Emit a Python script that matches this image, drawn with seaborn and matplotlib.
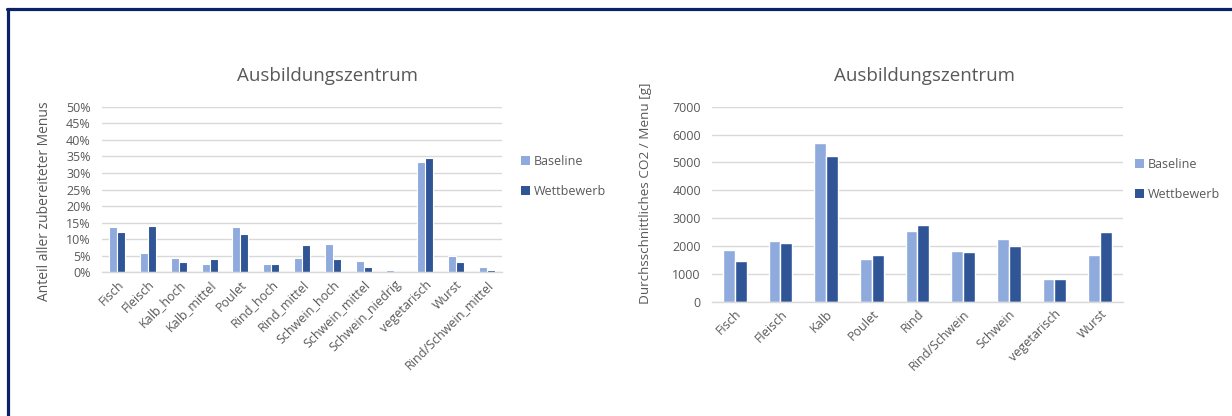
import matplotlib
matplotlib.use("Agg")
import matplotlib.pyplot as plt
from matplotlib.lines import Line2D
from matplotlib.patches import Patch
from matplotlib.ticker import FuncFormatter
import seaborn as sns
import pandas as pd

# ---- data ----
series = ["Baseline", "Wettbewerb"]

cats_left = ["Fisch", "Fleisch", "Kalb_hoch", "Kalb_mittel", "Poulet", "Rind_hoch",
             "Rind_mittel", "Schwein_hoch", "Schwein_mittel", "Schwein_niedrig",
             "vegetarisch", "Wurst", "Rind/Schwein_mittel"]
baseline_left = [13.6, 5.9, 4.3, 2.6, 13.6, 2.6, 4.3, 8.7, 3.4, 0.7, 33.3, 5.0, 1.6]
wettbewerb_left = [12.3, 14.1, 3.2, 4.1, 11.6, 2.4, 8.1, 4.1, 1.6, 0.0, 34.4, 3.2, 0.8]

cats_right = ["Fisch", "Fleisch", "Kalb", "Poulet", "Rind", "Rind/Schwein",
              "Schwein", "vegetarisch", "Wurst"]
baseline_right = [1870, 2190, 5710, 1520, 2550, 1820, 2240, 830, 1690]
wettbewerb_right = [1450, 2110, 5220, 1660, 2770, 1800, 2010, 830, 2500]

title = "Ausbildungszentrum"
ylabel_left = "Anteil aller zubereiteter Menus"
ylabel_right = "Durchsschnittliches CO2 / Menu [g]"

colors = {"Baseline": "#8FAADC", "Wettbewerb": "#2F5597"}
text_color = "#595959"
grid_color = "#D9D9D9"

sns.set_theme(style="white")
plt.rcParams["font.family"] = ["Open Sans", "DejaVu Sans"]


def long_df(cats, b, w):
    return pd.DataFrame({
        "cat": cats * 2,
        "series": ["Baseline"] * len(cats) + ["Wettbewerb"] * len(cats),
        "value": b + w,
    })


W, H = 1232, 416
fig = plt.figure(figsize=(W / 100, H / 100), dpi=100)

ax1 = fig.add_axes([0.0828, 0.3454, 0.3247, 0.398])
ax2 = fig.add_axes([0.5779, 0.2748, 0.3336, 0.4688])


def style_axis(ax, cats, ylim, yticks, fmt, ylabel, ylabel_fs, label_xy):
    ax.set_xlim(-0.5, len(cats) - 0.5)
    ax.set_ylim(*ylim)
    ax.set_yticks(yticks)
    ax.yaxis.set_major_formatter(FuncFormatter(fmt))
    ax.grid(axis="y", color=grid_color, linewidth=1.0)
    ax.set_axisbelow(True)
    for s in ["top", "right", "left"]:
        ax.spines[s].set_visible(False)
    ax.spines["bottom"].set_color(grid_color)
    ax.spines["bottom"].set_linewidth(1.0)
    ax.tick_params(axis="both", length=0, colors=text_color, labelsize=9)
    ax.tick_params(axis="y", pad=8)
    ax.tick_params(axis="x", pad=4)
    ax.set_xticks(range(len(cats)))
    ax.set_xticklabels(cats, rotation=45, ha="right", rotation_mode="anchor")
    ax.set_xlabel("")
    ax.set_ylabel(ylabel, color=text_color, fontsize=ylabel_fs)
    ax.yaxis.set_label_coords(*label_xy)
    if ax.get_legend() is not None:
        ax.get_legend().remove()


df1 = long_df(cats_left, baseline_left, wettbewerb_left)
sns.barplot(data=df1, x="cat", y="value", hue="series", palette=colors,
            hue_order=series, order=cats_left, width=0.52, gap=0.0,
            saturation=1, edgecolor="white", linewidth=0.8, ax=ax1)
style_axis(ax1, cats_left, (0, 50), list(range(0, 51, 5)),
           lambda v, p: f"{int(v)}%", ylabel_left, 10, (-0.125, 0.43))

df2 = long_df(cats_right, baseline_right, wettbewerb_right)
sns.barplot(data=df2, x="cat", y="value", hue="series", palette=colors,
            hue_order=series, order=cats_right, width=0.52, gap=0.0,
            saturation=1, edgecolor="white", linewidth=1.0, ax=ax2)
style_axis(ax2, cats_right, (0, 7000), list(range(0, 7001, 1000)),
           lambda v, p: f"{int(v)}", ylabel_right, 9.7, (-0.145, 0.555))

# chart titles, centred on each chart area
fig.text(327 / W, 1 - 76 / H, title, ha="center", va="center",
         color=text_color, fontsize=13.5)
fig.text(925 / W, 1 - 76 / H, title, ha="center", va="center",
         color=text_color, fontsize=13.5)

handles = [Patch(facecolor=colors[s], edgecolor="none") for s in series]
for anchor in [(0.414, 0.655), (0.912, 0.648)]:
    fig.legend(handles, series, loc="upper left", bbox_to_anchor=anchor,
               frameon=False, fontsize=9, labelcolor=text_color,
               handlelength=0.7, handleheight=0.7, handletextpad=0.3,
               labelspacing=1.35)

# outer dark blue frame (top and left)
frame_color = "#0B2366"
fig.add_artist(Line2D([7 / W, 1.0], [1 - 9 / H, 1 - 9 / H],
                      transform=fig.transFigure, color=frame_color, lw=2.3))
fig.add_artist(Line2D([8 / W, 8 / W], [0.0, 1 - 9 / H],
                      transform=fig.transFigure, color=frame_color, lw=2.3))

fig.savefig("out.png", dpi=100, facecolor="white")
